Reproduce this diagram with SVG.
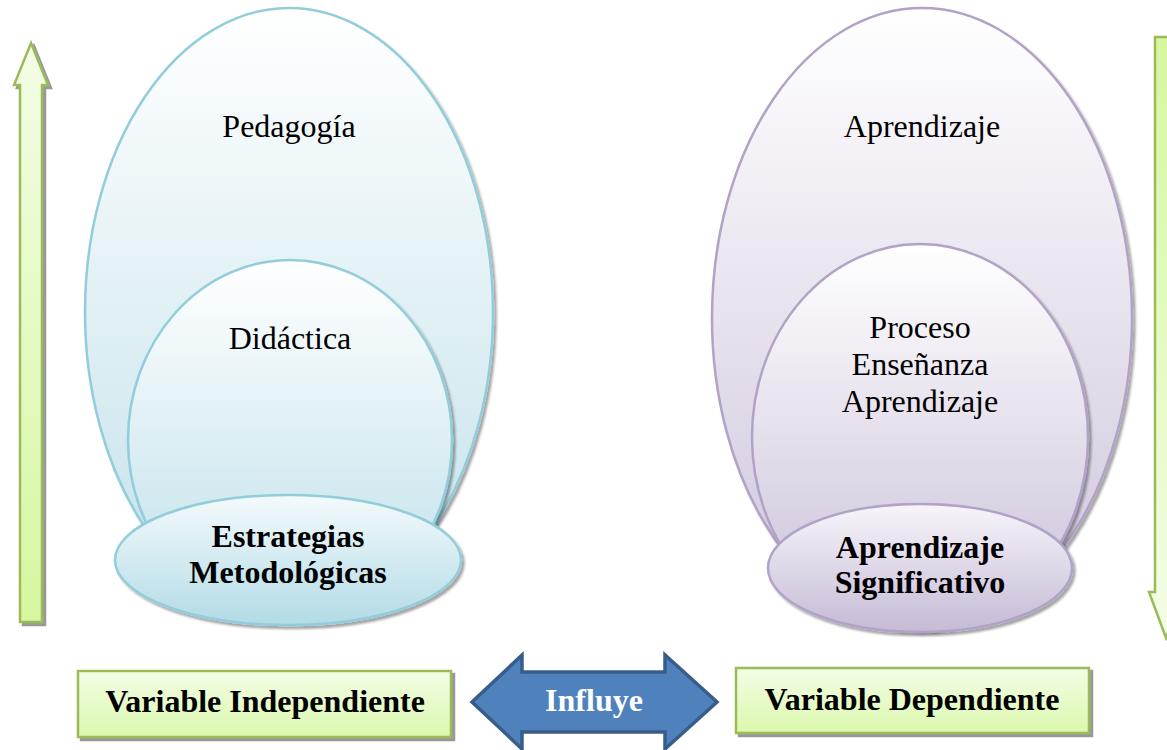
<svg xmlns="http://www.w3.org/2000/svg" width="1167" height="750" viewBox="0 0 1167 750">
<defs>
<style>
.t{font-family:"Liberation Serif","Times New Roman",serif;font-size:32px;fill:#000;text-anchor:middle}
.b{font-weight:bold}
.blue{stroke:#92cddc;stroke-width:2.5}
.purp{stroke:#b3a2c7;stroke-width:2.5}
.gbox{fill:url(#gGreen);stroke:#9bbb59;stroke-width:2.5}
</style>
<linearGradient id="gBlueBig" x1="0" y1="0" x2="0" y2="1"><stop offset="0" stop-color="#ffffff"/><stop offset="1" stop-color="#c2e1ea"/></linearGradient>
<linearGradient id="gBlueMid" x1="0" y1="0" x2="0" y2="1"><stop offset="0" stop-color="#ffffff"/><stop offset="1" stop-color="#bcdfe9"/></linearGradient>
<linearGradient id="gBlueSm" x1="0" y1="0" x2="0" y2="1"><stop offset="0" stop-color="#f4fafc"/><stop offset="1" stop-color="#b3dbe6"/></linearGradient>
<linearGradient id="gPurBig" x1="0" y1="0" x2="0" y2="1"><stop offset="0" stop-color="#ffffff"/><stop offset="1" stop-color="#cfc5dc"/></linearGradient>
<linearGradient id="gPurMid" x1="0" y1="0" x2="0" y2="1"><stop offset="0" stop-color="#ffffff"/><stop offset="1" stop-color="#cabfd8"/></linearGradient>
<linearGradient id="gPurSm" x1="0" y1="0" x2="0" y2="1"><stop offset="0" stop-color="#f7f5fa"/><stop offset="1" stop-color="#c6bad6"/></linearGradient>
<linearGradient id="gGreen" x1="0" y1="0" x2="0" y2="1"><stop offset="0" stop-color="#f3fde6"/><stop offset="1" stop-color="#dbf8ad"/></linearGradient>
<linearGradient id="gGreenUp" x1="0" y1="0" x2="0" y2="1"><stop offset="0" stop-color="#f3fde6"/><stop offset="1" stop-color="#d6f7a0"/></linearGradient>
<linearGradient id="gGreenDown" x1="0" y1="0" x2="0" y2="1"><stop offset="0" stop-color="#d6f7a0"/><stop offset="1" stop-color="#f3fde6"/></linearGradient>
<filter id="sh" x="-10%" y="-10%" width="130%" height="130%"><feDropShadow dx="2.5" dy="3" stdDeviation="1.2" flood-color="#000" flood-opacity="0.35"/></filter>
<filter id="shb" x="-10%" y="-10%" width="130%" height="130%"><feDropShadow dx="3" dy="3" stdDeviation="0.6" flood-color="#7f7f7f" flood-opacity="0.8"/></filter>
</defs>
<rect width="1167" height="750" fill="#ffffff"/>

<g id="arrow-up">
<polygon points="31,43 48,85 42,85 42,622 20,622 20,85 14,85" fill="url(#gGreenUp)" stroke="#9bbb59" stroke-width="2.5" filter="url(#shb)"/>
</g>
<g id="arrow-down">
<polygon points="1155,37 1177,37 1177,592 1183,592 1166,638 1149,592 1155,592" fill="url(#gGreenDown)" stroke="#9bbb59" stroke-width="2.5" filter="url(#shb)"/>
</g>

<g id="pedagogia">
<ellipse cx="289" cy="312" rx="204" ry="304" fill="url(#gBlueBig)" class="blue" filter="url(#sh)"/>
<text class="t" x="289" y="137">Pedagogía</text>
</g>
<g id="didactica">
<ellipse cx="290" cy="440" rx="162" ry="180" fill="url(#gBlueMid)" class="blue" filter="url(#sh)"/>
<text class="t" x="290" y="349">Didáctica</text>
</g>
<g id="estrategias">
<ellipse cx="288" cy="560" rx="173" ry="65" fill="url(#gBlueSm)" class="blue" filter="url(#sh)"/>
<text class="t b" x="288" y="547">Estrategias</text>
<text class="t b" x="288" y="583">Metodológicas</text>
</g>

<g id="aprendizaje">
<ellipse cx="922" cy="318" rx="210" ry="310" fill="url(#gPurBig)" class="purp" filter="url(#sh)"/>
<text class="t" x="922" y="137">Aprendizaje</text>
</g>
<g id="proceso">
<ellipse cx="920" cy="437" rx="168" ry="193" fill="url(#gPurMid)" class="purp" filter="url(#sh)"/>
<text class="t" x="920" y="338">Proceso</text>
<text class="t" x="920" y="375">Enseñanza</text>
<text class="t" x="920" y="412">Aprendizaje</text>
</g>
<g id="significativo">
<ellipse cx="920" cy="568" rx="152" ry="64" fill="url(#gPurSm)" class="purp" filter="url(#sh)"/>
<text class="t b" x="920" y="558">Aprendizaje</text>
<text class="t b" x="920" y="593">Significativo</text>
</g>

<g id="var-independiente">
<rect x="78" y="671" width="373" height="66" class="gbox" filter="url(#shb)"/>
<text class="t b" x="265" y="712">Variable Independiente</text>
</g>
<g id="var-dependiente">
<rect x="736" y="668" width="353" height="65" class="gbox" filter="url(#shb)"/>
<text class="t b" x="912" y="710">Variable Dependiente</text>
</g>

<g id="connectors">
<g id="influye">
<polygon points="472,702 522,655 522,672 665,672 665,655 717,702 665,749 665,732 522,732 522,749" fill="#4f81bd" stroke="#385d8a" stroke-width="3.5" stroke-linejoin="miter"/>
<text class="t b" x="594" y="711" style="fill:#ffffff">Influye</text>
</g>
</g>
</svg>
